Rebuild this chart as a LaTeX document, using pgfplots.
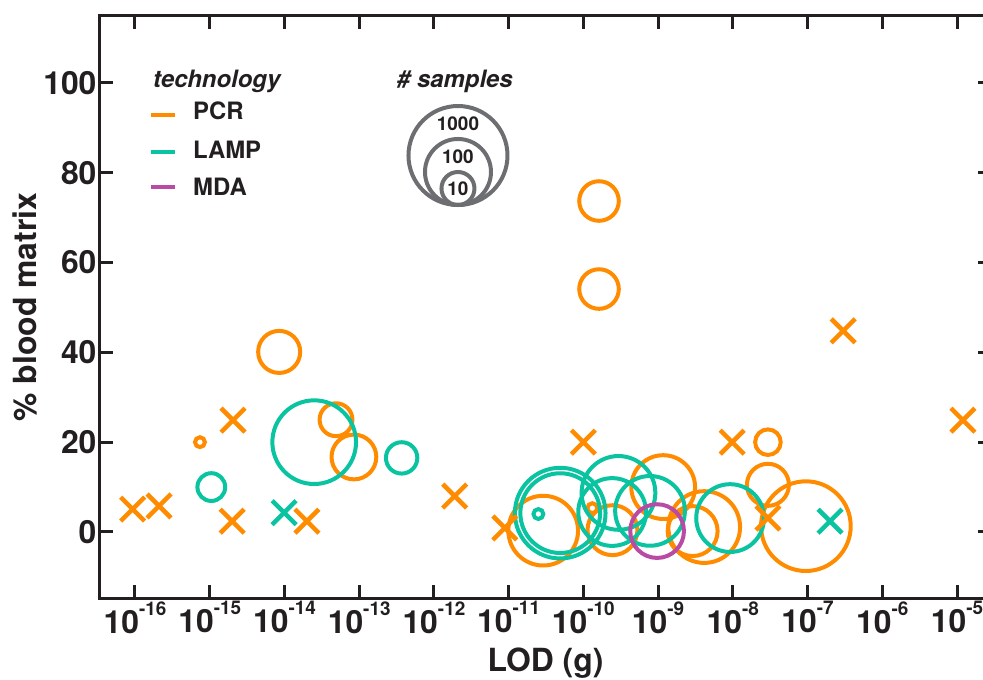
\documentclass[border=0pt]{standalone}
\usepackage{fontspec}
\setmainfont{TeX Gyre Heros}
\usepackage{pgfplots}
\usepackage{pgfplotstable}
\pgfplotsset{compat=1.18}
\definecolor{pcr}{RGB}{255,140,0}
\definecolor{lamp}{RGB}{10,195,160}
\definecolor{mda}{RGB}{185,75,165}
\definecolor{lgray}{RGB}{109,110,113}
\definecolor{ink}{RGB}{35,31,32}
\newcommand\tl[1]{10\raisebox{18bp}{\fontsize{19}{19}\selectfont #1}}

\pgfplotstableread{
x y n
8.5e-15 40.1 19
7.4e-16 20.0 2
4.9e-14 25.0 10
8.5e-14 16.7 23
1.62e-10 73.7 16
1.62e-10 54.1 16
2.9e-11 0.3 132
1.32e-10 5.3 2
2.45e-10 0.4 33
1.17e-9 10.0 87
4.14e-9 1.1 152
2.9e-9 0.2 33
2.95e-8 10.5 19
2.95e-8 20.0 6
9.5e-8 1.3 534
}\pcrcircles

\pgfplotstableread{
x y n
2.5e-14 20.0 351
1.05e-15 10.0 7
3.7e-13 16.5 9
4.9e-11 4.2 572
4.9e-11 4.2 266
2.43e-10 4.45 115
2.95e-10 8.7 175
7.8e-10 4.7 132
9.2e-9 3.1 115
2.5e-11 4.0 2
}\lampcircles

\pgfplotstableread{
x y n
9.7e-10 0.2 43
}\mdacircles

\pgfplotstableread{
x y
9.3e-17 5.1
2.1e-16 5.8
2.05e-15 24.9
2.0e-15 2.4
2.0e-14 2.4
1.9e-12 8.0
8.9e-12 0.9
1.0e-10 20.0
9.8e-9 20.0
2.95e-8 3.1
3.0e-7 44.8
1.2e-5 24.9
}\pcrcross

\pgfplotstableread{
x y
9.9e-15 4.3
2.0e-7 2.4
}\lampcross

\begin{document}
\begin{tikzpicture}
\begin{axis}[
  at={(0,0)}, anchor=south west,
  scale only axis, width=891bp, height=582bp,
  xmode=log,
  xmin=3.4e-17, xmax=2.85e-5,
  ymin=-14.7, ymax=114.9,
  xminorticks=false, yminorticks=false,
  xtick={1e-16,1e-15,1e-14,1e-13,1e-12,1e-11,1e-10,1e-9,1e-8,1e-7,1e-6,1e-5},
  xticklabels={\tl{-16},\tl{-15},\tl{-14},\tl{-13},\tl{-12},\tl{-11},\tl{-10},\tl{-9},\tl{-8},\tl{-7},\tl{-6},\tl{-5}},
  ytick={0,20,40,60,80,100},
  yticklabels={0,20,40,60,80,100},
  xtick pos=both, ytick pos=both,
  xticklabel pos=lower, yticklabel pos=left,
  tick align=inside,
  major tick length=13bp,
  axis line style={line width=3bp, ink},
  every tick/.style={line width=3bp, ink},
  ticklabel style={font=\fontsize{32}{32}\selectfont\bfseries, text=ink},
  xlabel={LOD (g)},
  ylabel={\% blood matrix},
  label style={font=\fontsize{32}{32}\selectfont\bfseries, text=ink},
  xlabel style={at={(axis description cs:0.5,-0.1271)}, anchor=base},
  ylabel style={at={(axis description cs:-0.0707,0.5)}, anchor=base, rotate=0},
]
\addplot[scatter, only marks, mark=o, line width=4bp,
  scatter/use mapped color={draw=pcr, fill=none},
  visualization depends on={7.1659*ln(\thisrow{n}) \as \rad},
  scatter/@pre marker code/.append style={/tikz/mark size=\rad}]
  table[x=x,y=y] {\pcrcircles};
\addplot[scatter, only marks, mark=o, line width=4bp,
  scatter/use mapped color={draw=lamp, fill=none},
  visualization depends on={7.1659*ln(\thisrow{n}) \as \rad},
  scatter/@pre marker code/.append style={/tikz/mark size=\rad}]
  table[x=x,y=y] {\lampcircles};
\addplot[scatter, only marks, mark=o, line width=4bp,
  scatter/use mapped color={draw=mda, fill=none},
  visualization depends on={7.1659*ln(\thisrow{n}) \as \rad},
  scatter/@pre marker code/.append style={/tikz/mark size=\rad}]
  table[x=x,y=y] {\mdacircles};
\addplot[only marks, mark=x, mark size=17, draw=lamp, line width=4.5bp]
  table[x=x,y=y] {\lampcross};
\addplot[only marks, mark=x, mark size=17, draw=pcr, line width=4.5bp]
  table[x=x,y=y] {\pcrcross};

% technology legend
\node[anchor=base west, inner sep=0pt, font=\fontsize{24}{24}\selectfont\bfseries\itshape, text=ink]
  at (axis description cs:0.0595,0.8763) {technology};
\draw[pcr, line width=4bp] (axis description cs:0.0572,0.8299) -- (axis description cs:0.0842,0.8299);
\draw[lamp, line width=4bp] (axis description cs:0.0572,0.7663) -- (axis description cs:0.0842,0.7663);
\draw[mda, line width=4bp] (axis description cs:0.0572,0.7062) -- (axis description cs:0.0842,0.7062);
\node[anchor=base west, inner sep=0pt, font=\fontsize{24}{24}\selectfont\bfseries, text=ink]
  at (axis description cs:0.1044,0.8213) {PCR};
\node[anchor=base west, inner sep=0pt, font=\fontsize{24}{24}\selectfont\bfseries, text=ink]
  at (axis description cs:0.1044,0.7560) {LAMP};
\node[anchor=base west, inner sep=0pt, font=\fontsize{24}{24}\selectfont\bfseries, text=ink]
  at (axis description cs:0.1044,0.6924) {MDA};
% sample size legend
\node[anchor=base west, inner sep=0pt, font=\fontsize{24}{24}\selectfont\bfseries\itshape, text=ink]
  at (axis description cs:0.3333,0.8763) {\# samples};
\draw[lgray, line width=4bp] (axis description cs:0.4018,0.7603) circle[radius=49.5bp];
\draw[lgray, line width=4bp] (axis description cs:0.4018,0.7320) circle[radius=33bp];
\draw[lgray, line width=4bp] (axis description cs:0.4018,0.7036) circle[radius=16.5bp];
\node[inner sep=0pt, font=\fontsize{19}{19}\selectfont\bfseries, text=ink]
  at (axis description cs:0.4018,0.8144) {1000};
\node[inner sep=0pt, font=\fontsize{19}{19}\selectfont\bfseries, text=ink]
  at (axis description cs:0.4018,0.7577) {100};
\node[inner sep=0pt, font=\fontsize{19}{19}\selectfont\bfseries, text=ink]
  at (axis description cs:0.4018,0.7027) {10};
\end{axis}
\pgfresetboundingbox
\path[use as bounding box] (-100bp,-82bp) rectangle (883bp,598bp);
\end{tikzpicture}
\end{document}
